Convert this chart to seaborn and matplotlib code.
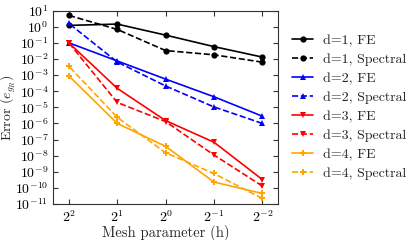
import numpy as np
import pandas as pd
import matplotlib
matplotlib.use("Agg")
import matplotlib.pyplot as plt
from matplotlib.ticker import LogLocator, NullLocator
import seaborn as sns

# mesh parameter h
h = [4, 2, 1, 0.5, 0.25]

# error values
d1_fe = [1.2, 1.45, 0.30, 0.058, 0.013]
d1_sp = [5.0, 0.68, 0.033, 0.018, 0.0063]
d2_fe = [0.1, 0.0075, 5.6e-4, 4.5e-5, 2.8e-6]
d2_sp = [1.6, 0.0065, 2.1e-4, 1.05e-5, 1.0e-6]
d3_fe = [0.1, 1.5e-4, 1.5e-6, 6.8e-8, 3.3e-10]
d3_sp = [0.1, 2.0e-5, 1.3e-6, 1.1e-8, 1.3e-10]
d4_fe = [8.9e-4, 1.0e-6, 3.8e-8, 2.3e-10, 4.5e-11]
d4_sp = [3.5e-3, 2.4e-6, 1.5e-8, 7.8e-10, 2.2e-11]

series = [
    ("d=1, FE", d1_fe, "black", "o", "-"),
    ("d=1, Spectral", d1_sp, "black", "o", "--"),
    ("d=2, FE", d2_fe, "blue", "^", "-"),
    ("d=2, Spectral", d2_sp, "blue", "^", "--"),
    ("d=3, FE", d3_fe, "red", "v", "-"),
    ("d=3, Spectral", d3_sp, "red", "v", "--"),
    ("d=4, FE", d4_fe, "orange", "P", "-"),
    ("d=4, Spectral", d4_sp, "orange", "P", "--"),
]

sns.set_style("ticks", {"xtick.direction": "in", "ytick.direction": "in"})
plt.rcParams["font.family"] = ["cmr10", "DejaVu Serif"]
plt.rcParams["mathtext.fontset"] = "cm"
plt.rcParams["axes.formatter.use_mathtext"] = True
plt.rcParams["axes.unicode_minus"] = False
plt.rcParams["font.size"] = 10

fig = plt.figure(figsize=(4.16, 2.40), dpi=100)
ax = fig.add_axes([0.128, 0.15, 0.540, 0.806])

for label, vals, color, marker, ls in series:
    df = pd.DataFrame({"h": h, "err": vals})
    sns.lineplot(data=df, x="h", y="err", ax=ax, color=color, marker=marker,
                 linestyle=ls, linewidth=1.2, markersize=4.5,
                 markeredgewidth=0, label=label)

ax.set_xscale("log", base=2)
ax.set_yscale("log")
ax.set_xlim(5, 0.2)
ax.set_ylim(1e-11, 1e1)
ax.set_xticks(h)
ax.xaxis.set_minor_locator(NullLocator())
ax.yaxis.set_major_locator(LogLocator(base=10, numticks=20))
ax.yaxis.set_minor_locator(NullLocator())
ax.tick_params(which="both", direction="in", top=True, right=True,
               labelsize=10, length=3.5, width=0.8, colors="#333333",
               labelcolor="black")
for sp in ax.spines.values():
    sp.set_color("#333333")
    sp.set_linewidth(0.8)

ax.set_xlabel("Mesh parameter (h)", fontsize=10.5, labelpad=0)
ax.set_ylabel(r"Error ($e_{g_R}$)", fontsize=10)
ax.yaxis.set_label_coords(-0.158, 0.5)

ax.legend(loc="center left", bbox_to_anchor=(1.02, 0.5), frameon=False,
          fontsize=10, labelspacing=0.45, handlelength=1.5, handletextpad=0.7,
          borderaxespad=0.3)

fig.savefig("out.png", dpi=100)
